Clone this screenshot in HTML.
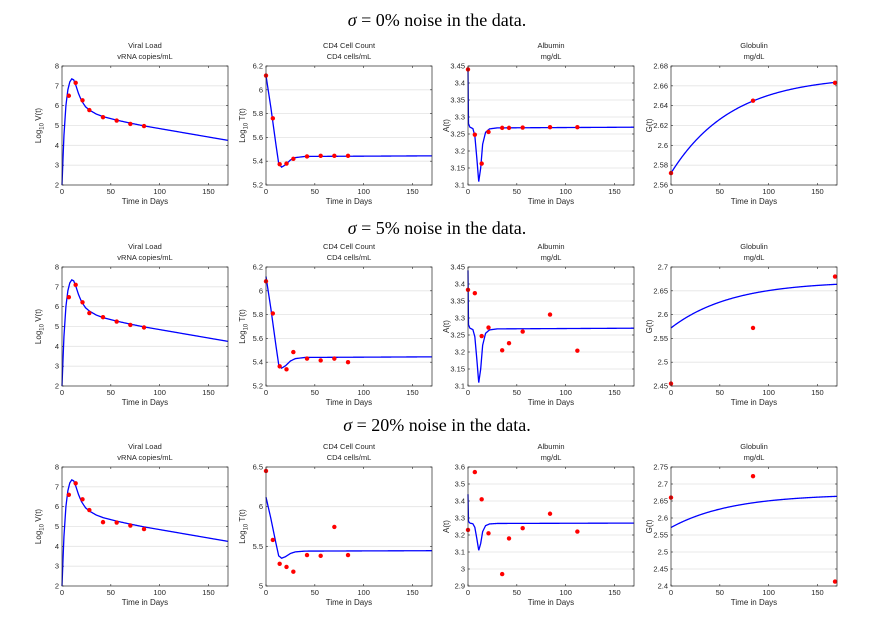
<!DOCTYPE html>
<html><head><meta charset="utf-8"><style>
body{margin:0;background:#fff;width:875px;height:618px;overflow:hidden}
svg text{font-family:"Liberation Sans",sans-serif;fill:#262626}
</style></head><body>
<svg id="s" width="875" height="618" xmlns="http://www.w3.org/2000/svg">
<text x="437" y="26" text-anchor="middle" style="font-family:'Liberation Serif',serif;font-size:18px;fill:#000"><tspan font-style="italic">σ</tspan> = 0% noise in the data.</text>
<text x="437" y="234" text-anchor="middle" style="font-family:'Liberation Serif',serif;font-size:18px;fill:#000"><tspan font-style="italic">σ</tspan> = 5% noise in the data.</text>
<text x="437" y="431" text-anchor="middle" style="font-family:'Liberation Serif',serif;font-size:18px;fill:#000"><tspan font-style="italic">σ</tspan> = 20% noise in the data.</text>
</svg>
<script>
const S=document.getElementById('s');const NS='http://www.w3.org/2000/svg';
function el(t,a,txt){const e=document.createElementNS(NS,t);for(const k in a)e.setAttribute(k,a[k]);if(txt!==undefined)e.textContent=txt;S.appendChild(e);return e;}
function interp(pts,t){for(let i=1;i<pts.length;i++){if(t<=pts[i][0]){const a=pts[i-1],b=pts[i];return a[1]+(b[1]-a[1])*(t-a[0])/(b[0]-a[0]);}}return pts[pts.length-1][1];}
const Vc=[[0,2],[1,3.3],[2,4.5],[4,6.0],[6,6.8],[8,7.2],[10,7.35],[12,7.3],[14,7.05],[17,6.6],[20,6.25],[24,5.95],[28,5.78],[35,5.58],[42,5.45],[56,5.27],[70,5.12],[84,4.98],[170,4.25]];
const Tc=[[0,6.12],[5,5.85],[10,5.55],[13,5.38],[16,5.35],[20,5.37],[25,5.41],[30,5.43],[40,5.44],[170,5.445]];
const Ac=[[0,3.44],[0.5,3.28],[2,3.27],[5,3.266],[7,3.245],[9,3.18],[11,3.11],[13,3.15],[15,3.22],[18,3.255],[22,3.265],[30,3.268],[170,3.27]];
const Gf=t=>2.572+0.098*(1-Math.exp(-t/62));
const tV=[7,14,21,28,42,56,70,84],tT=[0,7,14,21,28,42,56,70,84],tA=[0,7,14,21,35,42,56,84,112],tG=[0,84,168];
const X0=[62,266,468,671],Y0=[66,267,467],W=166,H=119;
function rng(a,b,s){const r=[];for(let v=a;v<=b+1e-9;v+=s)r.push(+v.toFixed(3));return r;}
const rows=[
 [{t:'Viral Load',u:'vRNA copies/mL',yl:'V',c:t=>interp(Vc,t),y:[2,8],tk:rng(2,8,1),d:[tV,[6.5,7.15,6.27,5.78,5.42,5.25,5.08,4.97]]},
  {t:'CD4 Cell Count',u:'CD4 cells/mL',yl:'T',c:t=>interp(Tc,t),y:[5.2,6.2],tk:rng(5.2,6.2,.2),d:[tT,[6.12,5.76,5.375,5.38,5.42,5.44,5.445,5.445,5.445]]},
  {t:'Albumin',u:'mg/dL',yl:'A(t)',c:t=>interp(Ac,t),y:[3.1,3.45],tk:rng(3.1,3.45,.05),d:[tA,[3.44,3.248,3.163,3.256,3.268,3.268,3.269,3.27,3.27]]},
  {t:'Globulin',u:'mg/dL',yl:'G(t)',c:Gf,y:[2.56,2.68],tk:rng(2.56,2.68,.02),d:[tG,[2.572,2.645,2.663]]}],
 [{t:'Viral Load',u:'vRNA copies/mL',yl:'V',c:t=>interp(Vc,t),y:[2,8],tk:rng(2,8,1),d:[tV,[6.48,7.1,6.22,5.68,5.47,5.25,5.08,4.95]]},
  {t:'CD4 Cell Count',u:'CD4 cells/mL',yl:'T',c:t=>interp(Tc,t),y:[5.2,6.2],tk:rng(5.2,6.2,.2),d:[tT,[6.08,5.81,5.365,5.34,5.485,5.43,5.415,5.43,5.40]]},
  {t:'Albumin',u:'mg/dL',yl:'A(t)',c:t=>interp(Ac,t),y:[3.1,3.45],tk:rng(3.1,3.45,.05),d:[tA,[3.383,3.373,3.247,3.272,3.205,3.226,3.26,3.31,3.204]]},
  {t:'Globulin',u:'mg/dL',yl:'G(t)',c:Gf,y:[2.45,2.7],tk:rng(2.45,2.7,.05),d:[tG,[2.455,2.572,2.68]]}],
 [{t:'Viral Load',u:'vRNA copies/mL',yl:'V',c:t=>interp(Vc,t),y:[2,8],tk:rng(2,8,1),d:[tV,[6.6,7.18,6.37,5.83,5.22,5.2,5.05,4.87]]},
  {t:'CD4 Cell Count',u:'CD4 cells/mL',yl:'T',c:t=>interp(Tc,t),y:[5,6.5],tk:rng(5,6.5,.5),d:[tT,[6.45,5.58,5.28,5.24,5.18,5.39,5.38,5.745,5.39]]},
  {t:'Albumin',u:'mg/dL',yl:'A(t)',c:t=>interp(Ac,t),y:[2.9,3.6],tk:rng(2.9,3.6,.1),d:[tA,[3.23,3.57,3.41,3.21,2.97,3.18,3.24,3.325,3.22]]},
  {t:'Globulin',u:'mg/dL',yl:'G(t)',c:Gf,y:[2.4,2.75],tk:rng(2.4,2.75,.05),d:[tG,[2.66,2.723,2.413]]}]];
rows.forEach((row,r)=>row.forEach((p,c)=>{
 const x0=X0[c],y0=Y0[r];const sx=t=>x0+t/170*W;const sy=v=>y0+H-(v-p.y[0])/(p.y[1]-p.y[0])*H;
 el('rect',{x:x0,y:y0,width:W,height:H,fill:'#fff'});
 p.tk.forEach(v=>{const y=sy(v);
  if(v>p.y[0]+1e-9&&v<p.y[1]-1e-9)el('line',{x1:x0,x2:x0+W,y1:y,y2:y,stroke:'#e3e3e3','stroke-width':0.8});
  el('line',{x1:x0,x2:x0+2,y1:y,y2:y,stroke:'#262626','stroke-width':0.6});
  el('line',{x1:x0+W,x2:x0+W-2,y1:y,y2:y,stroke:'#262626','stroke-width':0.6});
  el('text',{x:x0-3,y:y+2.5,'text-anchor':'end','font-size':7.5},String(v));});
 [0,50,100,150].forEach(t=>{const x=sx(t);
  el('line',{x1:x,x2:x,y1:y0+H,y2:y0+H-2,stroke:'#262626','stroke-width':0.6});
  el('line',{x1:x,x2:x,y1:y0,y2:y0+2,stroke:'#262626','stroke-width':0.6});
  el('text',{x:x,y:y0+H+9,'text-anchor':'middle','font-size':7.5},String(t));});
 el('text',{x:x0+W/2,y:y0+H+19,'text-anchor':'middle','font-size':8},'Time in Days');
 el('text',{x:x0+W/2,y:y0-18,'text-anchor':'middle','font-size':7.5},p.t);
 el('text',{x:x0+W/2,y:y0-7,'text-anchor':'middle','font-size':7.5},p.u);
 const lx=x0-(c===2||c===3?19:21),ly=y0+H/2;
 if(p.yl.length===1){const t=el('text',{x:lx,y:ly,'text-anchor':'middle','font-size':8,transform:`rotate(-90 ${lx} ${ly})`});
  t.innerHTML='Log<tspan font-size="6" dy="2.5">10</tspan><tspan dy="-2.5"> '+p.yl+'(t)</tspan>';}
 else el('text',{x:lx,y:ly,'text-anchor':'middle','font-size':8,transform:`rotate(-90 ${lx} ${ly})`},p.yl);
 let d='';for(let t=0;t<=170;t+=0.5){d+=(t?'L':'M')+sx(t).toFixed(2)+' '+sy(p.c(t)).toFixed(2);}
 el('path',{d:d,fill:'none',stroke:'#0000ff','stroke-width':1.3});
 p.d[0].forEach((t,i)=>el('circle',{cx:sx(t),cy:sy(p.d[1][i]),r:2.2,fill:'#ff0000'}));
 el('rect',{x:x0,y:y0,width:W,height:H,fill:'none',stroke:'#262626','stroke-width':0.7});
}));
</script>
</body></html>
